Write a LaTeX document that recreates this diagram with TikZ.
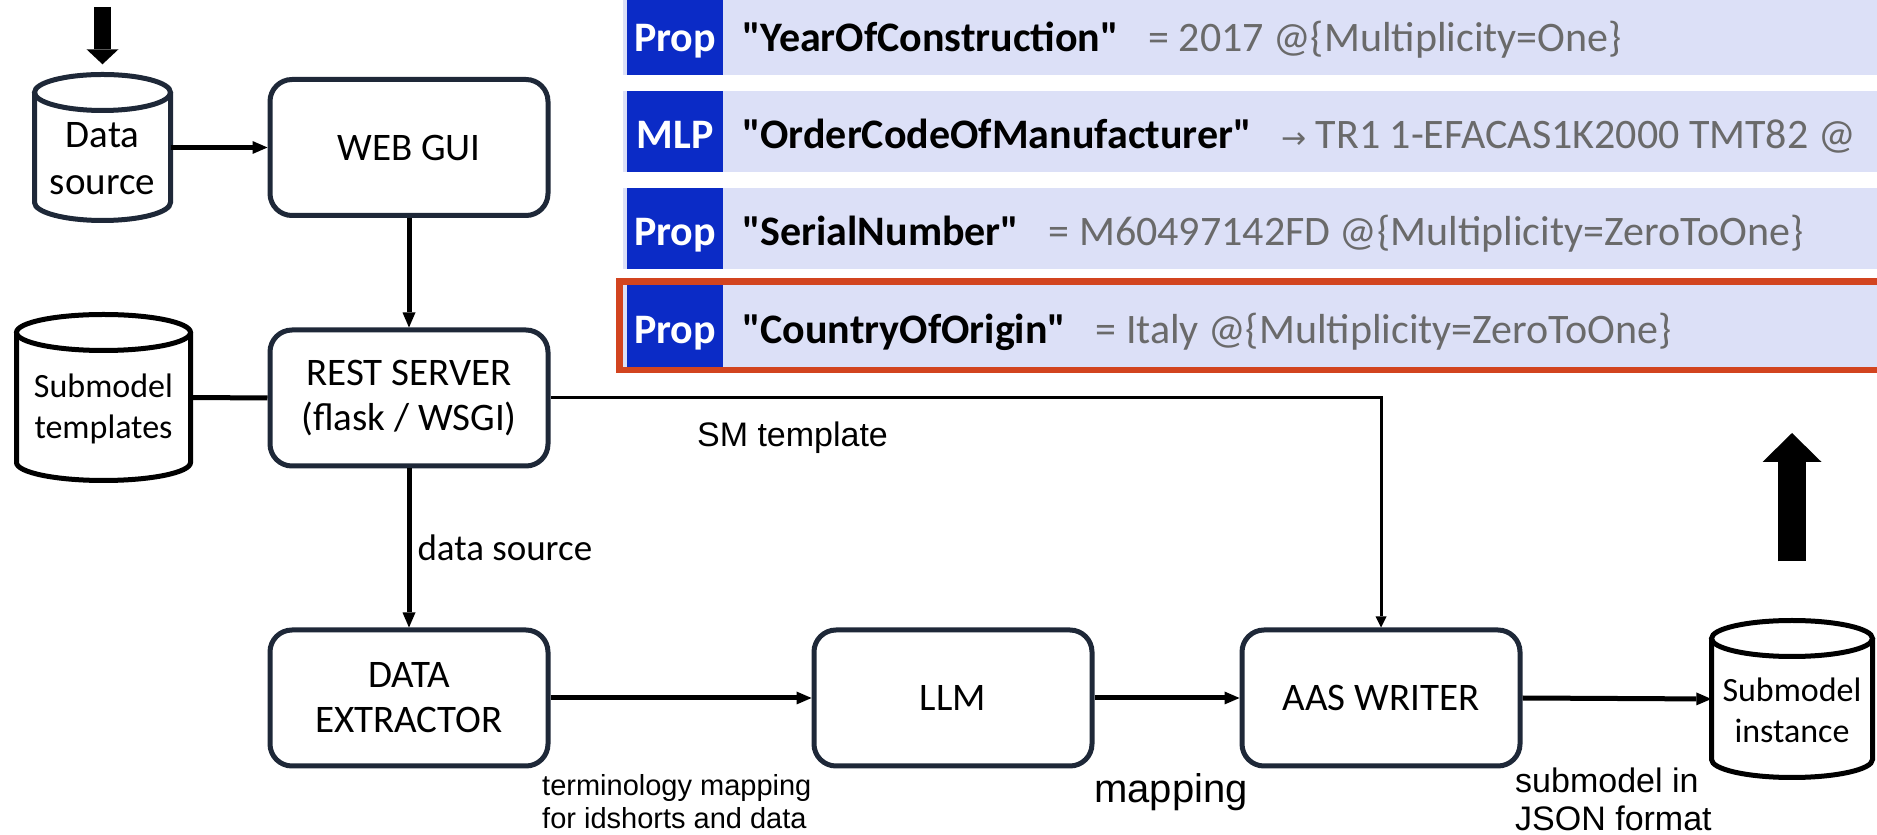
\documentclass[tikz,border=0pt]{standalone}
\usepackage{fontspec}
\setmainfont{Carlito}
\newfontfamily\arialfont{Liberation Sans}
\newfontfamily\symfont{DejaVu Sans}
\usepackage{tikz}
\usetikzlibrary{arrows.meta,positioning,calc}
\definecolor{boxnavy}{HTML}{1E2838}
\definecolor{tagblue}{HTML}{0B2BC6}
\definecolor{rowbg}{HTML}{DCE0F7}
\definecolor{selred}{HTML}{D2441F}
\definecolor{valgray}{HTML}{6A6A6A}
\newcommand{\boxfont}{\fontsize{39}{45}\selectfont}
\newcommand{\cylfont}{\fontsize{39}{47}\selectfont}
\newcommand{\smallcylfont}{\fontsize{34}{41}\selectfont}
\newcommand{\edgefont}{\fontsize{37}{44}\selectfont}
\newcommand{\rowfont}{\fontsize{42}{48}\selectfont}
\newcommand{\cylry}{18}
\tikzset{
  blk/.style      = {draw=boxnavy, line width=5pt, rounded corners=22pt, fill=white,
                     minimum width=278pt, minimum height=136pt, align=center,
                     font=\boxfont},
  arr/.style      = {-{Triangle[length=15pt,width=13pt,line width=0pt]}, line width=5pt},
  arrthin/.style  = {-{Triangle[length=11pt,width=11pt,line width=0pt]}, line width=3pt},
  lnk/.style      = {line width=5pt},
  fatarr/.style   = {-{Triangle[length=15pt,width=32pt,line width=0pt]}, line width=17pt},
  fatarrup/.style = {-{Triangle[length=29pt,width=59pt,line width=0pt]}, line width=28pt},
  lbl/.style      = {inner sep=0pt, align=left,
                     font=\arialfont\fontsize{34}{38}\selectfont},
  tagtxt/.style   = {text=white, font=\rowfont\bfseries, inner sep=0pt},
  rowtxt/.style   = {font=\rowfont, inner sep=0pt},
}
\newcommand{\dbcyl}[8]{%                % #1 = colour, #2 = name, #3 = centre x, #4 = top, #5 = bottom, #6 = width, #7 = font, #8 = text
  \draw[#1, line width=5pt, fill=white]
    ({#3-#6/2},{#4-\cylry}) -- ({#3-#6/2},{#5+\cylry})
    arc[start angle=180, end angle=360, x radius=#6/2, y radius=\cylry]
    -- ({#3+#6/2},{#4-\cylry});
  \draw[#1, line width=5pt] (#3,{#4-\cylry}) ellipse[x radius=#6/2, y radius=\cylry];
  \node[inner sep=0pt, minimum width=#6pt, minimum height={(#4-#5)*1pt}]
        (#2) at (#3,{(#4+#5)/2}) {};
  \node[font=#7, align=center, inner sep=0pt] (#2lbl) at ([yshift=-11pt]#2.center) {#8};}
\newcommand{\aasrow}[6]{%               % #1 = name, #2 = row bottom, #3 = row top, #4 = kind, #5 = idShort, #6 = value
  \fill[rowbg] (623,#2) rectangle (1877,#3);
  \fill[tagblue] (627,#2) rectangle (723,#3);
  \node[tagtxt, anchor=base] (#1kind) at (675,{#2+23}) {#4};
  \node[rowtxt, anchor=base west] (#1val) at (742,{#2+23})
        {\bfseries\textquotedbl#5\textquotedbl\hspace{0.7em}\mdseries\color{valgray}#6};}

\begin{document}
\begin{tikzpicture}[x=1pt,y=1pt]
  \useasboundingbox (0,0) rectangle (1877,835);
  % property list
  \begin{scope}
    \clip (0,0) rectangle (1877,835);
    \aasrow{yoc}{760}{841}{Prop}{YearOfConstruction}{= 2017 @\{Multiplicity=One\}}
    \aasrow{ocm}{663}{744}{MLP}{OrderCodeOfManufacturer}%
      {{\symfont\fontsize{30}{30}\selectfont →} TR1 1-EFACAS1K2000 TMT82 @}
    \aasrow{sn}{566}{647}{Prop}{SerialNumber}{= M60497142FD @\{Multiplicity=ZeroToOne\}}
    \fill[selred] (616,462) rectangle (1877,557);
    \aasrow{coo}{468}{550}{Prop}{CountryOfOrigin}{= Italy @\{Multiplicity=ZeroToOne\}}
  \end{scope}
  % stores
  \dbcyl{boxnavy}{dsrc}{102.5}{760.5}{614.5}{136}{\cylfont}{Data\\source}
  \dbcyl{black}{tmpl}{103.5}{520.5}{354.5}{174}{\smallcylfont}{Submodel\\templates}
  \dbcyl{black}{inst}{1792}{214.5}{57.5}{161}{\smallcylfont}{Submodel\\instance}
  % blocks
  \node[blk] (web)  at (409,687.5) {WEB GUI};
  \node[blk] (rest) at (409,437)   {REST SERVER\\(flask / WSGI)};
  \node[blk] (dex)  at (409,137)   {DATA\\EXTRACTOR};
  \node[blk] (llm)  at (953,137)   {LLM};
  \node[blk] (aas)  at (1381,137)  {AAS WRITER};
  % flow
  \draw[arr] (dsrc.east) -- (web.west);
  \draw[arr] (web) -- (rest);
  \draw[lnk] (tmpl.east) -- (rest.west);
  \draw[arrthin] (rest.east) -| (aas.north);
  \draw[arr] (rest) -- (dex)
    node[midway, right=6pt, inner sep=0pt, font=\edgefont] (lblsrc) {data source};
  \draw[arr] (dex.east) -- (llm.west);
  \draw[arr] (llm.east) -- (aas.west);
  \draw[arr] (aas.east) -- (inst.west);
  \coordinate (feed) at (102.5,828);
  \draw[fatarr, shorten >=10pt] (feed) -- (dsrc.north);
  \coordinate (publish) at (1792,402);
  \draw[fatarrup, shorten <=59pt] (inst.north) -- (publish);
  % labels
  \node[lbl, anchor=center] (lblsm) at (792.5,397) {SM template};
  \node[lbl, anchor=west, font=\arialfont\fontsize{29}{33}\selectfont]
        (lblterm) at (542,33.5) {terminology mapping\\for idshorts and data};
  \node[lbl, anchor=center, font=\arialfont\fontsize{40}{44}\selectfont]
        (lblmap) at (1171,43) {mapping};
  \node[lbl, anchor=west] (lbljson) at (1515,36) {submodel in\\JSON format};
\end{tikzpicture}
\end{document}
